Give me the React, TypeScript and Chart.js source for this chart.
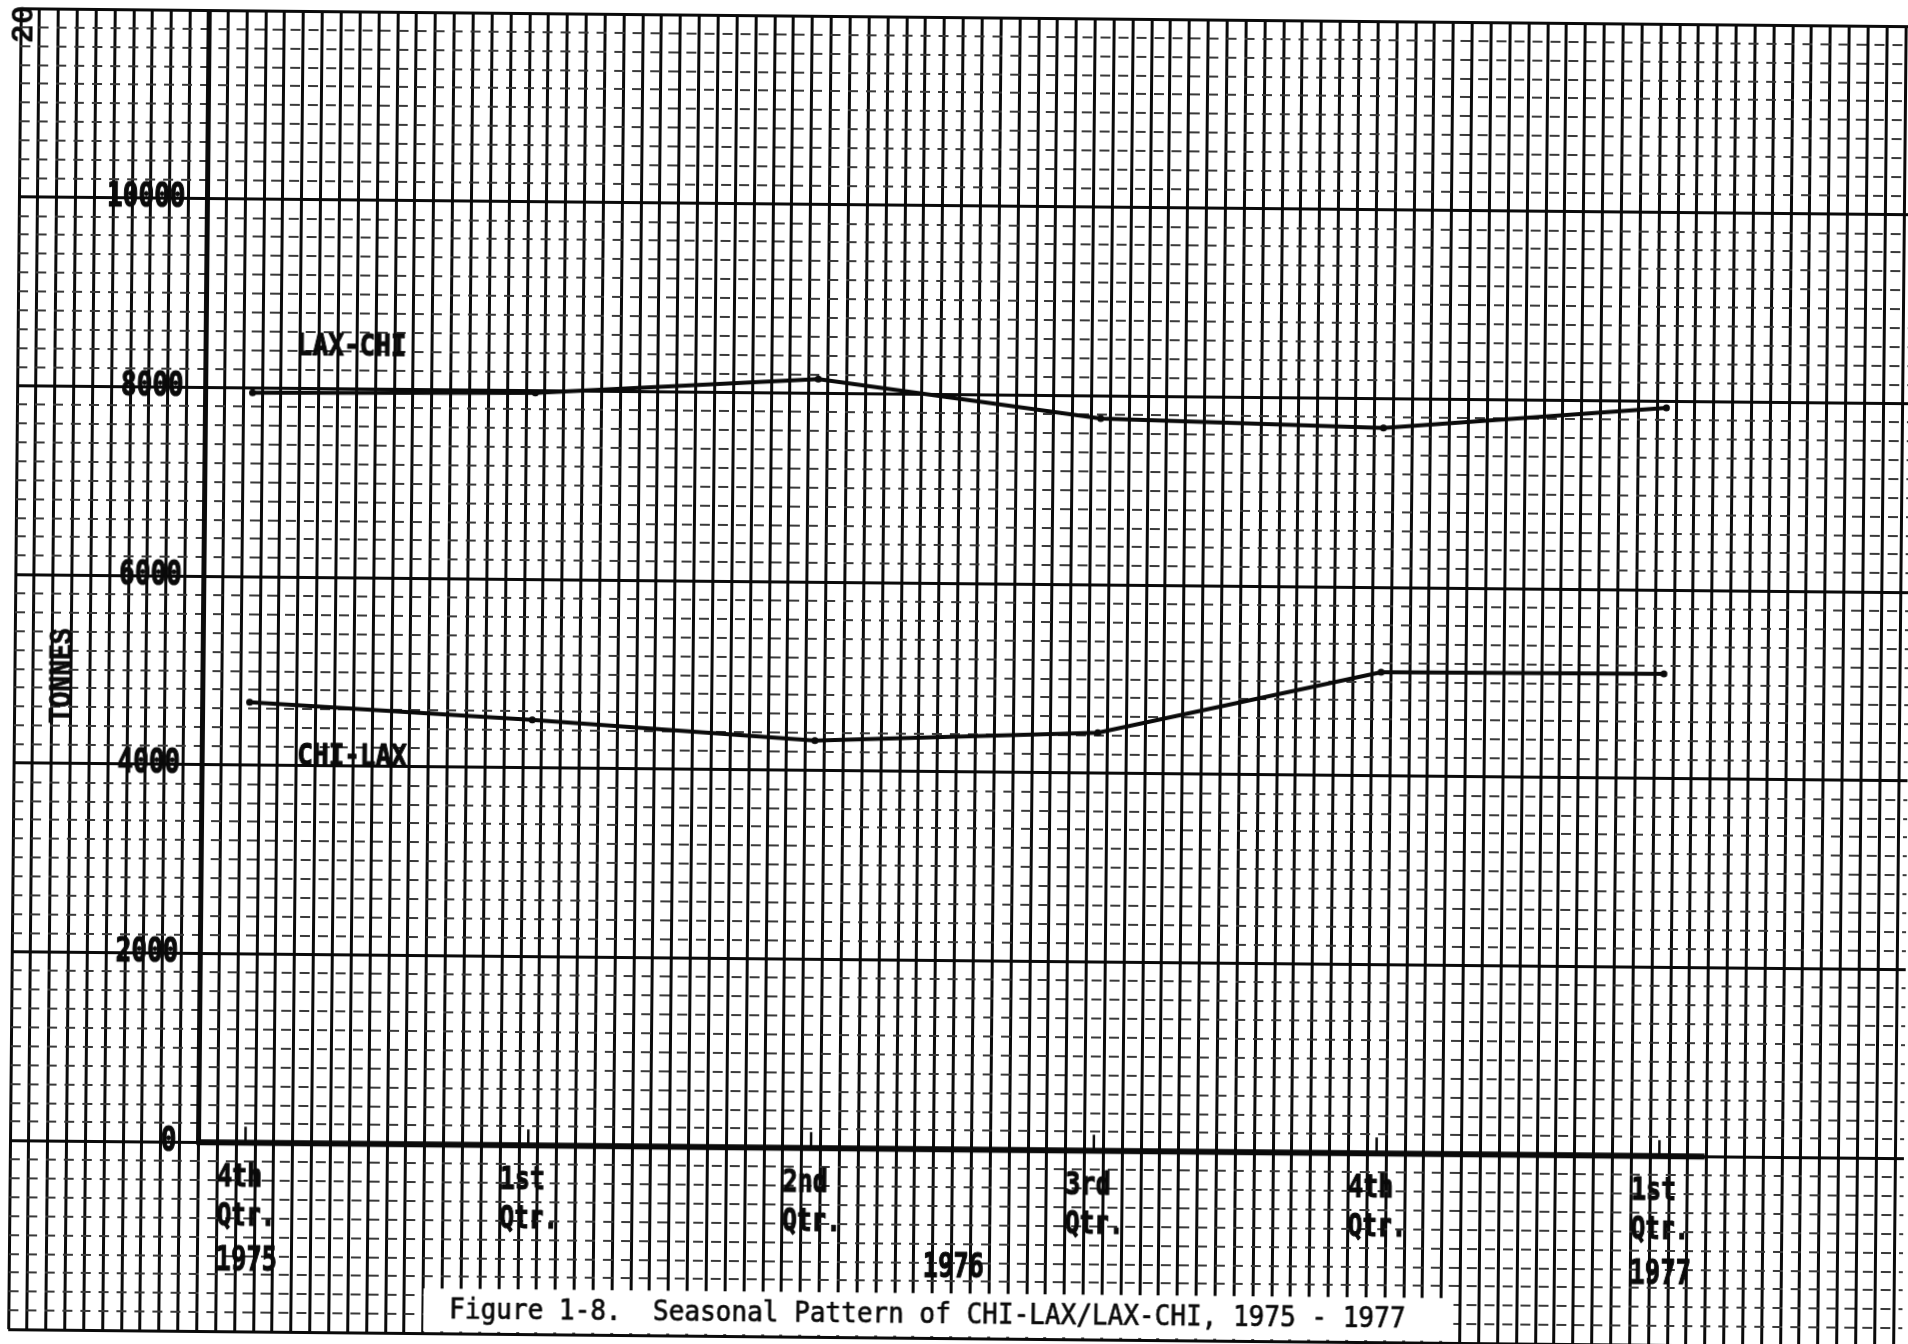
import React, { useEffect, useRef } from "react";
import { Chart, registerables } from "chart.js";

Chart.register(...registerables);

// ---- data -----------------------------------------------------------------
// quarters (x position in quarter units: 0 = 4th Qtr 1975)
const QUARTER_TOP = ["4th", "1st", "2nd", "3rd", "4th", "1st"];
const QUARTER_BOTTOM = ["Qtr.", "Qtr.", "Qtr.", "Qtr.", "Qtr.", "Qtr."];
const QUARTER_X = [0, 1, 2, 3, 4, 5];
const YEAR_LABELS = ["1975", "1976", "1977"];
const YEAR_X = [0, 2.5, 5];

// tonnes
const LAX_CHI = [7950, 7975, 8150, 7760, 7690, 7930];
const CHI_LAX = [4670, 4510, 4320, 4430, 5100, 5110];
const SERIES_NAMES = ["LAX-CHI", "CHI-LAX"];

const Y_TICK_LABELS = [0, 2000, 4000, 6000, 8000, 10000];
const Y_TITLE = "TONNES";
const CAPTION = "Figure 1-8.  Seasonal Pattern of CHI-LAX/LAX-CHI, 1975 - 1977";
const PAGE_NUMBER = "20";

// ---- layout / scale constants ---------------------------------------------
const X_AXIS_AT = -0.166; // where the vertical axis sits, quarter units
const X_STEP = 1 / 15; // graph paper division
const X_MIN = X_AXIS_AT - 10 * X_STEP;
const X_MAX = 5.865;
const X_AXIS_END = 5.16;
const Y_MIN = -2000;
const Y_MAX = 12000;
const Y_MINOR = 200;
const Y_MAJOR = 2000;

const LABEL_POS = {
  series: [
    { x: 0.155, y: 8440 },
    { x: 0.17, y: 4090 },
  ],
  yTitle: { x: -0.661, y: 4930 },
  caption: { x: 2.417 },
};

const INK = "#0a0a0a";
const W = 1908;
const H = 1344;

function range(a: number, b: number, s: number) {
  const out: number[] = [];
  for (let v = a; v <= b + 1e-9; v += s) out.push(v);
  return out;
}

function drawText(
  ctx: CanvasRenderingContext2D,
  s: string,
  x: number,
  y: number,
  font: string,
  opts: { align?: CanvasTextAlign; sx?: number; rot?: number; stroke?: number } = {}
) {
  ctx.save();
  ctx.translate(x, y);
  if (opts.rot) ctx.rotate(opts.rot);
  ctx.scale(opts.sx ?? 1, 1);
  ctx.font = font;
  ctx.textAlign = opts.align ?? "left";
  ctx.textBaseline = "middle";
  ctx.fillStyle = INK;
  ctx.fillText(s, 0, 0);
  if (opts.stroke) {
    ctx.strokeStyle = INK;
    ctx.lineWidth = opts.stroke;
    ctx.lineJoin = "round";
    ctx.strokeText(s, 0, 0);
  }
  ctx.restore();
}

function strokeLine(ctx: CanvasRenderingContext2D, x1: number, y1: number, x2: number, y2: number, w: number) {
  ctx.save();
  ctx.strokeStyle = INK;
  ctx.lineWidth = w;
  ctx.beginPath();
  ctx.moveTo(x1, y1);
  ctx.lineTo(x2, y2);
  ctx.stroke();
  ctx.restore();
}

const paperPlugin = {
  id: "paperAnnotations",
  afterDraw(chart: any) {
    const ctx: CanvasRenderingContext2D = chart.ctx;
    const xs = chart.scales.x;
    const ys = chart.scales.y;
    const px = (v: number) => xs.getPixelForValue(v);
    const py = (v: number) => ys.getPixelForValue(v);
    const ax = px(X_AXIS_AT);
    const ay = py(0);

    // caption label pasted over the paper
    const cx = px(LABEL_POS.caption.x);
    ctx.save();
    ctx.fillStyle = "#fff";
    ctx.fillRect(cx - 504, ay + 144, 1030, 43);
    ctx.restore();

    // axes
    strokeLine(ctx, ax, py(Y_MAX), ax, ay + 2, 5);
    strokeLine(ctx, ax - 2, ay, px(X_AXIS_END), ay, 6);
    QUARTER_X.forEach((q) => strokeLine(ctx, px(q), ay - 16, px(q), ay, 2.5));

    // y tick labels
    const tickFont = 'bold 33px "DejaVu Sans Mono"';
    Y_TICK_LABELS.forEach((v) =>
      drawText(ctx, String(v), ax - 22, py(v), tickFont, { align: "right", sx: 0.79, stroke: 1.2 })
    );

    // quarter labels
    const qFont = 'bold 32px "DejaVu Sans Mono"';
    QUARTER_X.forEach((q, i) => {
      drawText(ctx, QUARTER_TOP[i], px(q) - 28, ay + 35, qFont, { sx: 0.78, stroke: 1.1 });
      drawText(ctx, QUARTER_BOTTOM[i], px(q) - 28, ay + 74, qFont, { sx: 0.76, stroke: 1.1 });
    });
    YEAR_X.forEach((q, i) =>
      drawText(ctx, YEAR_LABELS[i], px(q) + 2, ay + 119, 'bold 33px "DejaVu Sans Mono"', {
        align: "center",
        sx: 0.77,
        stroke: 1.1,
      })
    );

    // series labels
    SERIES_NAMES.forEach((s, i) =>
      drawText(ctx, s, px(LABEL_POS.series[i].x), py(LABEL_POS.series[i].y), 'bold 31px "DejaVu Sans Mono"', {
        sx: 0.84,
        stroke: 1.1,
      })
    );

    // y title
    drawText(ctx, Y_TITLE, px(LABEL_POS.yTitle.x), py(LABEL_POS.yTitle.y), 'bold 33px "Liberation Mono"', {
      align: "center",
      rot: -Math.PI / 2,
      sx: 0.8,
      stroke: 0.8,
    });

    // caption
    drawText(ctx, CAPTION, cx, ay + 166, '28px "DejaVu Sans Mono"', { align: "center", sx: 0.93, stroke: 0.7 });

    // page number
    drawText(ctx, PAGE_NUMBER, 14, 26, 'bold 32px "Liberation Mono"', { align: "center", rot: -Math.PI / 2 });
  },
};

export default function App() {
  const ref = useRef<HTMLCanvasElement | null>(null);

  useEffect(() => {
    const canvas = ref.current;
    if (!canvas) return;
    const lineStyle = {
      borderColor: INK,
      backgroundColor: INK,
      borderWidth: 4,
      pointRadius: 3.5,
      pointBackgroundColor: INK,
      pointBorderColor: INK,
      pointBorderWidth: 0,
      tension: 0,
      fill: false,
    };
    const chart = new Chart(canvas, {
      type: "line",
      data: {
        datasets: [
          { label: SERIES_NAMES[0], data: QUARTER_X.map((q, i) => ({ x: q, y: LAX_CHI[i] })), ...lineStyle },
          { label: SERIES_NAMES[1], data: QUARTER_X.map((q, i) => ({ x: q, y: CHI_LAX[i] })), ...lineStyle },
        ],
      },
      options: {
        responsive: false,
        animation: false,
        devicePixelRatio: 1,
        events: [],
        layout: { padding: { left: 10, top: 10, right: 0, bottom: 13 } },
        plugins: { legend: { display: false }, tooltip: { enabled: false }, title: { display: false } },
        scales: {
          x: {
            type: "linear",
            position: "bottom",
            min: X_MIN,
            max: X_MAX,
            afterBuildTicks: (s: any) => {
              s.ticks = range(0, Math.floor((X_MAX - X_MIN) / X_STEP), 1).map((k) => ({ value: X_MIN + k * X_STEP }));
            },
            ticks: { display: false, autoSkip: false },
            grid: { color: INK, lineWidth: 3, drawTicks: false },
            border: { display: false },
          },
          y: {
            type: "linear",
            position: "left",
            min: Y_MIN,
            max: Y_MAX,
            afterBuildTicks: (s: any) => {
              s.ticks = range(Y_MIN, Y_MAX, Y_MINOR)
                .filter((v) => Math.abs(v % Y_MAJOR) > 1e-6)
                .map((v) => ({ value: v }));
            },
            ticks: { display: false, autoSkip: false },
            grid: { color: "#3a3a3a", lineWidth: 2, drawTicks: false },
            border: { display: false, dash: [10, 8] },
          },
          yMajor: {
            type: "linear",
            position: "left",
            min: Y_MIN,
            max: Y_MAX,
            afterBuildTicks: (s: any) => {
              s.ticks = range(Y_MIN, Y_MAX, Y_MAJOR).map((v) => ({ value: v }));
            },
            ticks: { display: false, autoSkip: false },
            grid: { color: INK, lineWidth: 3, drawTicks: false },
            border: { display: false },
          },
        },
      } as any,
      plugins: [paperPlugin],
    });
    return () => chart.destroy();
  }, []);

  return (
    <div
      style={{
        position: "fixed",
        left: 0,
        top: 0,
        width: W,
        height: H,
        overflow: "hidden",
        background: "#fff",
      }}
    >
      <canvas
        ref={ref}
        width={W}
        height={H}
        style={{
          display: "block",
          width: W,
          height: H,
          transform: "rotate(0.544deg)",
          transformOrigin: "199px 1142px",
        }}
      />
    </div>
  );
}
